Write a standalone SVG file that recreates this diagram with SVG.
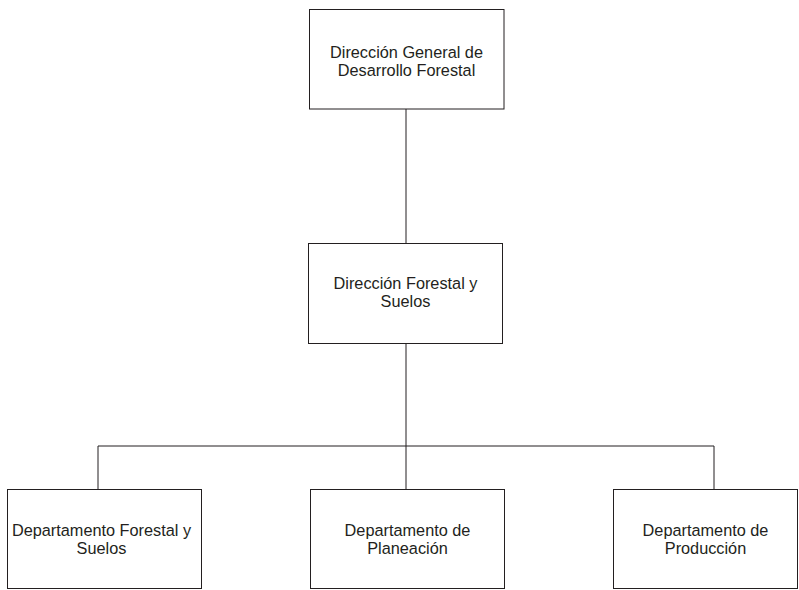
<svg xmlns="http://www.w3.org/2000/svg" width="799" height="590" viewBox="0 0 799 590">
  <style>
    .box { fill: #ffffff; stroke: #231f20; stroke-width: 1; }
    .link { fill: none; stroke: #231f20; stroke-width: 1; }
    .label { font-family: "Liberation Sans", Arial, sans-serif; font-size: 16.3px; fill: #231f20; text-anchor: middle; }
  </style>
  <rect width="799" height="590" fill="#ffffff"/>

  <g id="connectors">
    <line class="link" x1="406" y1="109" x2="406" y2="243"/>
    <line class="link" x1="406" y1="343" x2="406" y2="489"/>
    <polyline class="link" points="98,489 98,446 714,446 714,489"/>
  </g>

  <g id="direccion-general">
    <rect class="box" x="309.5" y="9.5" width="194.5" height="99.5"/>
    <text class="label" x="406.5" y="58">Dirección General de</text>
    <text class="label" x="406.5" y="76">Desarrollo Forestal</text>
  </g>

  <g id="direccion-forestal">
    <rect class="box" x="308.5" y="243.5" width="194" height="100"/>
    <text class="label" x="405.5" y="289">Dirección Forestal y</text>
    <text class="label" x="405.5" y="307">Suelos</text>
  </g>

  <g id="depto-forestal">
    <rect class="box" x="7.5" y="489.5" width="194" height="99"/>
    <text class="label" x="101.5" y="536">Departamento Forestal y</text>
    <text class="label" x="101.5" y="554">Suelos</text>
  </g>

  <g id="depto-planeacion">
    <rect class="box" x="310.5" y="489.5" width="194" height="99"/>
    <text class="label" x="407.5" y="536">Departamento de</text>
    <text class="label" x="407.5" y="554">Planeación</text>
  </g>

  <g id="depto-produccion">
    <rect class="box" x="613.5" y="489.5" width="184" height="99"/>
    <text class="label" x="705.5" y="536">Departamento de</text>
    <text class="label" x="705.5" y="554">Producción</text>
  </g>
</svg>
